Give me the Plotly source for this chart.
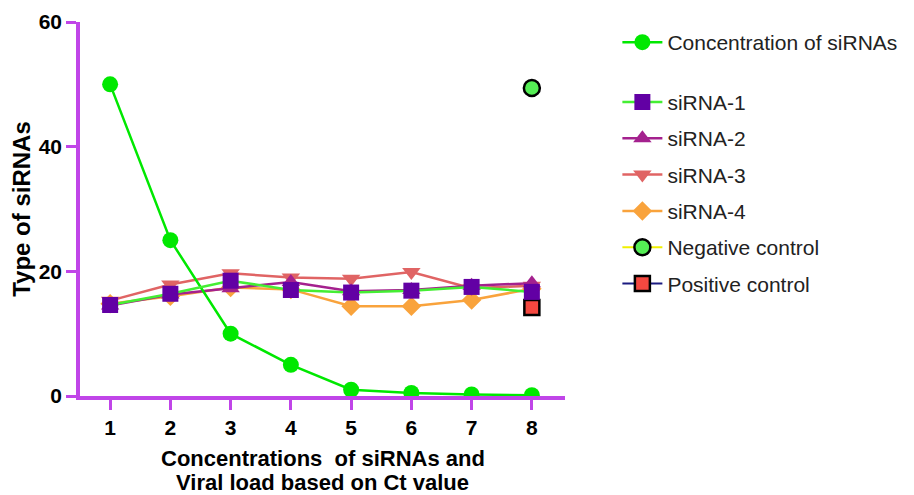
import plotly.graph_objects as go

x_vals = [1, 2, 3, 4, 5, 6, 7, 8]
concentration = [50, 25, 10, 5, 1, 0.5, 0.25, 0.125]
sirna1 = [14.6, 16.4, 18.5, 17.0, 16.6, 16.9, 17.5, 16.7]
sirna2 = [14.5, 16.3, 17.3, 18.3, 16.8, 17.0, 17.7, 18.1]
sirna3 = [15.3, 17.9, 19.7, 19.0, 18.8, 19.9, 17.3, 17.7]
sirna4 = [14.8, 16.0, 17.4, 17.1, 14.4, 14.4, 15.4, 17.2]
neg_x = [8]
neg_y = [49.4]
pos_x = [8]
pos_y = [14.2]
x_title_lines = ["Concentrations  of siRNAs and", "Viral load based on Ct value"]

FONT = "Liberation Sans, Arial, sans-serif"
AXIS = "#c045e8"

fig = go.Figure()

fig.add_trace(go.Scatter(x=neg_x, y=neg_y, name="Negative control", mode="lines+markers",
                         line=dict(color="#f0f000", width=2),
                         marker=dict(symbol="circle", size=16, color="#55ee55",
                                     line=dict(color="black", width=2.5)),
                         legend="legend2", legendgroup="neg", legendrank=5, showlegend=True))
fig.add_trace(go.Scatter(x=pos_x, y=pos_y, name="Positive control", mode="lines+markers",
                         line=dict(color="#1a1a80", width=2),
                         marker=dict(symbol="square", size=15, color="#f44840",
                                     line=dict(color="black", width=2.5)),
                         legend="legend2", legendgroup="pos", legendrank=6, showlegend=True))
fig.add_trace(go.Scatter(x=x_vals, y=sirna4, name="siRNA-4", mode="lines+markers",
                         line=dict(color="#f9a33c", width=2.5),
                         marker=dict(symbol="diamond", size=15, color="#f9a33c"),
                         legend="legend2", legendgroup="s4", legendrank=4, showlegend=True))
fig.add_trace(go.Scatter(x=x_vals, y=sirna3, name="siRNA-3", mode="lines+markers",
                         line=dict(color="#e06464", width=2.5),
                         marker=dict(symbol="triangle-down", size=16, color="#e06464"),
                         legend="legend2", legendgroup="s3", legendrank=3, showlegend=True))
fig.add_trace(go.Scatter(x=x_vals, y=sirna2, name="siRNA-2", mode="lines+markers",
                         line=dict(color="#a4218e", width=2.5),
                         marker=dict(symbol="triangle-up", size=16, color="#a4218e"),
                         legend="legend2", legendgroup="s2", legendrank=2, showlegend=True))
fig.add_trace(go.Scatter(x=x_vals, y=concentration, name="Concentration of siRNAs",
                         mode="lines+markers",
                         line=dict(color="#00e800", width=2.5),
                         marker=dict(symbol="circle", size=16, color="#00e800"),
                         legend="legend", showlegend=True))
fig.add_trace(go.Scatter(x=x_vals, y=sirna1, name="siRNA-1", mode="lines+markers",
                         line=dict(color="#44ee33", width=2.5),
                         marker=dict(symbol="square", size=16, color="#6200a4"),
                         legend="legend2", legendgroup="s1", legendrank=1, showlegend=True))

annotations = [
    dict(text="<b>%s</b>" % x_title_lines[0], x=0.5, y=-0.166, xref="paper", yref="paper",
         xanchor="center", yanchor="middle", showarrow=False,
         font=dict(size=22, family=FONT, color="black")),
    dict(text="<b>%s</b>" % x_title_lines[1], x=0.5, y=-0.231, xref="paper", yref="paper",
         xanchor="center", yanchor="middle", showarrow=False,
         font=dict(size=22, family=FONT, color="black")),
]

fig.update_layout(
    width=906, height=487,
    margin=dict(l=72, r=349, t=14, b=99, autoexpand=False),
    showlegend=True,
    plot_bgcolor="white", paper_bgcolor="white",
    font=dict(family=FONT, color="black"),
    annotations=annotations,
    legend=dict(x=1.108, xanchor="left", y=1.0, yanchor="top",
                font=dict(size=21, color="#222222", family=FONT),
                itemwidth=40, bgcolor="rgba(0,0,0,0)"),
    legend2=dict(x=1.108, xanchor="left", y=0.84, yanchor="top",
                 font=dict(size=21, color="#222222", family=FONT),
                 itemwidth=40, traceorder="grouped", tracegroupgap=6,
                 bgcolor="rgba(0,0,0,0)"),
    xaxis=dict(range=[0.5, 8.55], tickvals=x_vals, ticktext=[str(v) for v in x_vals],
               showgrid=False, zeroline=False, showline=True, linecolor=AXIS, linewidth=3.5,
               ticks="outside", ticklen=10, tickwidth=3, tickcolor=AXIS, automargin=False,
               tickfont=dict(size=21, family=FONT, weight="bold")),
    yaxis=dict(range=[0, 60], tickvals=[0, 20, 40, 60],
               showgrid=False, zeroline=False, showline=True, linecolor=AXIS, linewidth=3.5,
               ticks="outside", ticklen=10, tickwidth=3, tickcolor=AXIS, automargin=False,
               tickfont=dict(size=21, family=FONT, weight="bold"),
               title=dict(text="<b>Type of siRNAs</b>", font=dict(size=24, family=FONT),
                          standoff=8)),
)

fig.write_html("out.html")
